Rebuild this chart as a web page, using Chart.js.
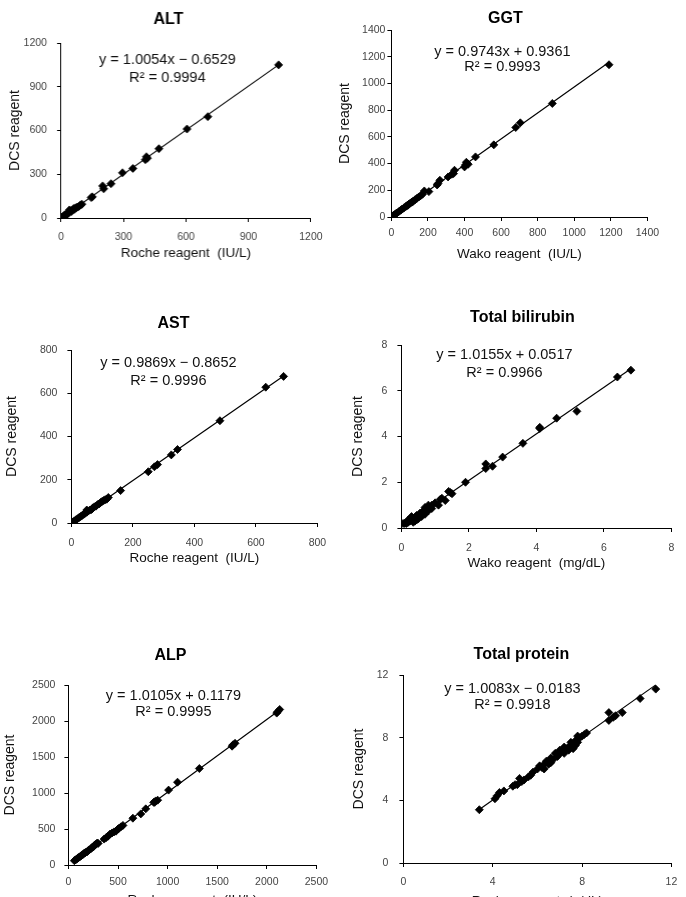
<!DOCTYPE html>
<html><head><meta charset="utf-8">
<script src="https://cdn.jsdelivr.net/npm/chart.js@4/dist/chart.umd.min.js"></script>
<style>
html,body{margin:0;padding:0;background:#fff;width:686px;height:897px;overflow:hidden;position:relative}
</style></head><body>
<script>
// ---------- data ----------
const titles = ["ALT", "GGT", "AST", "Total bilirubin", "ALP", "Total protein"];
const xTitles = ["Roche reagent  (IU/L)", "Wako reagent  (IU/L)", "Roche reagent  (IU/L)", "Wako reagent  (mg/dL)", "Roche reagent  (IU/L)", "Roche reagent  (g/dL)"];
const yTitle = "DCS reagent";
const equations = ["y = 1.0054x − 0.6529", "y = 0.9743x + 0.9361", "y = 0.9869x − 0.8652", "y = 1.0155x + 0.0517", "y = 1.0105x + 0.1179", "y = 1.0083x − 0.0183"];
const rSquared = ["R² = 0.9994", "R² = 0.9993", "R² = 0.9996", "R² = 0.9966", "R² = 0.9995", "R² = 0.9918"];
const axisMax = [1200, 1400, 800, 8, 2500, 12];
const axisStep = [300, 200, 200, 2, 500, 4];

const altX = [1045,705,605,470,410,405,415,345,295,240,200,205,145,150,95,90,85,80,75,70,65,60,55,50,45,40,40,35,30,25,20,18,15,12,10,8,5,100,60,30];
const altY = [1050,695,610,475,420,400,410,340,310,235,220,200,140,145,90,85,80,75,72,70,60,60,55,45,50,55,40,35,30,25,20,22,15,12,10,5,5,95,65,25];
const altFitX = [3, 1045];
const altFitY = [2.4, 1050];

const ggtX = [1190,880,705,680,560,460,410,400,405,420,345,340,330,310,265,255,250,205,180,170,160,150,140,130,120,115,110,100,95,90,85,80,70,60,55,50,40,30,25,20,15,10,5];
const ggtY = [1140,850,705,670,540,450,410,375,390,395,350,325,320,300,275,250,240,190,195,170,160,150,140,130,120,112,110,100,95,88,85,80,70,60,55,50,40,30,25,20,15,10,5];
const ggtFitX = [3, 1190];
const ggtFitY = [3.9, 1158];

const astX = [690,632,483,345,325,280,270,250,160,120,115,110,105,100,95,90,85,80,75,70,68,65,60,55,50,50,45,40,35,30,25,20,15,10,5];
const astY = [678,628,473,340,315,270,260,237,150,118,110,108,104,100,95,88,85,78,75,70,66,62,60,55,60,50,45,40,35,30,25,20,15,10,5];
const astFitX = [3, 690];
const astFitY = [2.1, 680];

const bilX = [6.8,6.4,5.2,4.6,4.1,4.1,3.6,3.0,2.7,2.5,2.5,1.9,1.5,1.45,1.4,1.3,1.2,1.15,1.1,1.0,0.9,0.85,0.8,0.8,0.75,0.7,0.7,0.7,0.65,0.6,0.6,0.55,0.5,0.5,0.45,0.45,0.4,0.4,0.35,0.35,0.3,0.3,0.25,0.2,0.2,0.15,0.1,0.05,0.9];
const bilY = [6.9,6.6,5.1,4.8,4.4,4.35,3.7,3.1,2.7,2.8,2.6,2.0,1.5,1.55,1.6,1.2,1.3,1.25,1.0,1.1,1.0,0.9,1.0,0.75,0.85,0.9,0.7,0.6,0.75,0.6,0.5,0.65,0.5,0.4,0.55,0.35,0.45,0.3,0.4,0.25,0.5,0.35,0.3,0.25,0.35,0.2,0.2,0.2,0.85];
const bilFitX = [0.05, 6.8];
const bilFitY = [0.1, 6.96];

const alpX = [2130,2110,2100,1680,1660,1650,1320,1100,1010,900,880,870,860,780,730,650,550,530,510,500,480,460,440,420,400,380,360,300,290,280,270,260,250,240,230,210,200,190,180,170,160,150,140,130,120,110,100,90,80,70,60];
const alpY = [2160,2130,2110,1690,1670,1650,1340,1150,1040,900,890,870,870,780,710,650,550,530,510,500,470,460,445,430,400,380,360,300,305,290,280,270,250,245,230,210,200,185,180,170,165,150,140,130,120,110,100,90,80,70,60];
const alpFitX = [55, 2130];
const alpFitY = [55.7, 2152.5];

const protX = [3.4,4.1,4.2,4.3,4.5,4.9,5.0,5.1,5.2,5.3,5.4,5.6,5.7,5.8,6.0,6.1,6.2,6.3,6.3,6.4,6.5,6.5,6.6,6.6,6.7,6.8,6.9,7.0,7.0,7.1,7.2,7.2,7.3,7.4,7.4,7.5,7.5,7.6,7.6,7.7,7.7,7.8,7.8,7.9,8.0,8.1,8.2,9.2,9.2,9.4,9.5,9.8,10.6,11.3];
const protY = [3.4,4.1,4.3,4.5,4.6,4.9,5.0,5.0,5.4,5.2,5.3,5.5,5.6,5.8,6.0,6.2,6.1,6.3,6.0,6.5,6.5,6.3,6.7,6.4,6.6,7.0,6.8,7.0,7.2,7.1,7.0,7.4,7.3,7.4,7.2,7.5,7.7,7.6,7.3,7.8,7.5,7.7,8.1,8.0,8.1,8.2,8.3,9.6,9.1,9.3,9.4,9.6,10.5,11.1];
const protFitX = [3.4, 11.3];
const protFitY = [3.41, 11.37];

const seriesX = [altX, ggtX, astX, bilX, alpX, protX];
const seriesY = [altY, ggtY, astY, bilY, alpY, protY];
const fitX = [altFitX, ggtFitX, astFitX, bilFitX, alpFitX, protFitX];
const fitY = [altFitY, ggtFitY, astFitY, bilFitY, alpFitY, protFitY];

// ---------- layout (page pixels) ----------
const layouts = [
  {plotL:61, plotT:43, plotR:310, plotB:218, titleX:168, titleY:20, yTitleX:15.5, xTitleY:253, xPad:9, yPad:10, eqX:167, eqY1:60, eqY2:78},
  {plotL:391, plotT:30, plotR:647, plotB:217, titleX:505, titleY:19, yTitleX:345, xTitleY:254, xPad:6, yPad:2, eqX:502, eqY1:52, eqY2:67},
  {plotL:71, plotT:350, plotR:317, plotB:523, titleX:173, titleY:324, yTitleX:12, xTitleY:558, xPad:10, yPad:10, eqX:168, eqY1:363, eqY2:381},
  {plotL:401, plotT:345, plotR:671, plotB:528, titleX:522, titleY:318, yTitleX:358, xTitleY:563, xPad:10, yPad:10, eqX:504, eqY1:355, eqY2:373},
  {plotL:68, plotT:685, plotR:316, plotB:865, titleX:170, titleY:656, yTitleX:10, xTitleY:900, xPad:7, yPad:9, eqX:173, eqY1:696, eqY2:712},
  {plotL:403, plotT:675, plotR:671, plotB:863, titleX:521, titleY:655, yTitleX:359, xTitleY:901, xPad:9, yPad:11, eqX:512, eqY1:689, eqY2:705}
];

const FONT = '"Liberation Sans", Arial, sans-serif';
Chart.defaults.font.family = FONT;

const panelText = {
  id: 'panelText',
  afterDraw(chart, args, o) {
    const ctx = chart.ctx;
    ctx.save();
    ctx.textAlign = 'center';
    ctx.textBaseline = 'middle';
    ctx.fillStyle = '#000';
    ctx.font = 'bold 16px ' + FONT;
    ctx.fillText(o.title, o.titleX, o.titleY);
    ctx.fillStyle = '#111';
    ctx.font = '14.5px ' + FONT;
    ctx.fillText(o.eq, o.eqX, o.eqY1);
    ctx.fillText(o.r2, o.eqX, o.eqY2);
    ctx.restore();
  }
};

for (let i = 0; i < 6; i++) {
  const L = layouts[i];
  const yLH = 14 * 1.2, xLH = 13.5 * 1.2;
  const cl = L.yTitleX - yLH / 2;
  const ct = L.titleY - 16;
  const PR = 30;
  const cr = L.plotR + PR;
  const cb = L.xTitleY + xLH / 2 + 1;
  const wrap = document.createElement('div');
  wrap.style.cssText = `position:absolute;left:${cl}px;top:${ct}px;width:${cr - cl}px;height:${cb - ct}px`;
  const cv = document.createElement('canvas');
  wrap.appendChild(cv);
  document.body.appendChild(wrap);

  const pts = seriesX[i].map((x, k) => ({x, y: seriesY[i][k]}));
  const fit = fitX[i].map((x, k) => ({x, y: fitY[i][k]}));
  const yW = L.plotL - cl;
  const xH = cb - L.plotB;

  const axisCommon = (max) => ({
    type: 'linear', min: 0, max: max,
    grid: {display: true, drawOnChartArea: false, drawTicks: true, tickLength: 4, color: '#000', lineWidth: 1},
    border: {display: true, color: '#000', width: 1},
  });
  const plain = v => String(v);

  new Chart(cv, {
    type: 'scatter',
    data: {
      datasets: [
        {data: fit, showLine: true, borderColor: '#000', borderWidth: 1.2, pointRadius: 0, fill: false, order: 2},
        {data: pts, pointStyle: 'rectRot', pointRadius: 4, backgroundColor: '#000', borderColor: '#000', borderWidth: 0.8, showLine: false, order: 1}
      ]
    },
    options: {
      responsive: true, maintainAspectRatio: false, animation: false, events: [],
      layout: {padding: {left: 0, top: L.plotT - ct, right: PR, bottom: 0}},
      plugins: {
        legend: {display: false}, tooltip: {enabled: false}, title: {display: false},
        panelText: {
          title: titles[i], titleX: L.titleX - cl, titleY: L.titleY - ct,
          eq: equations[i], r2: rSquared[i], eqX: L.eqX - cl, eqY1: L.eqY1 - ct, eqY2: L.eqY2 - ct
        }
      },
      scales: {
        x: Object.assign(axisCommon(axisMax[i]), {
          position: 'bottom',
          ticks: {stepSize: axisStep[i], padding: L.xPad, color: '#444', font: {size: 10.5}, maxRotation: 0, autoSkip: false, callback: plain},
          title: {display: true, text: xTitles[i], color: '#111', font: {size: 13.5}, padding: {top: 0, bottom: 1}},
          afterFit: s => { s.height = xH; }
        }),
        y: Object.assign(axisCommon(axisMax[i]), {
          position: 'left',
          ticks: {stepSize: axisStep[i], padding: L.yPad, color: '#444', font: {size: 10.5}, autoSkip: false, callback: plain},
          title: {display: true, text: yTitle, color: '#111', font: {size: 14}, padding: {top: 0, bottom: 0}},
          afterFit: s => { s.width = yW; }
        })
      }
    },
    plugins: [panelText]
  });
}
</script>
</body></html>
